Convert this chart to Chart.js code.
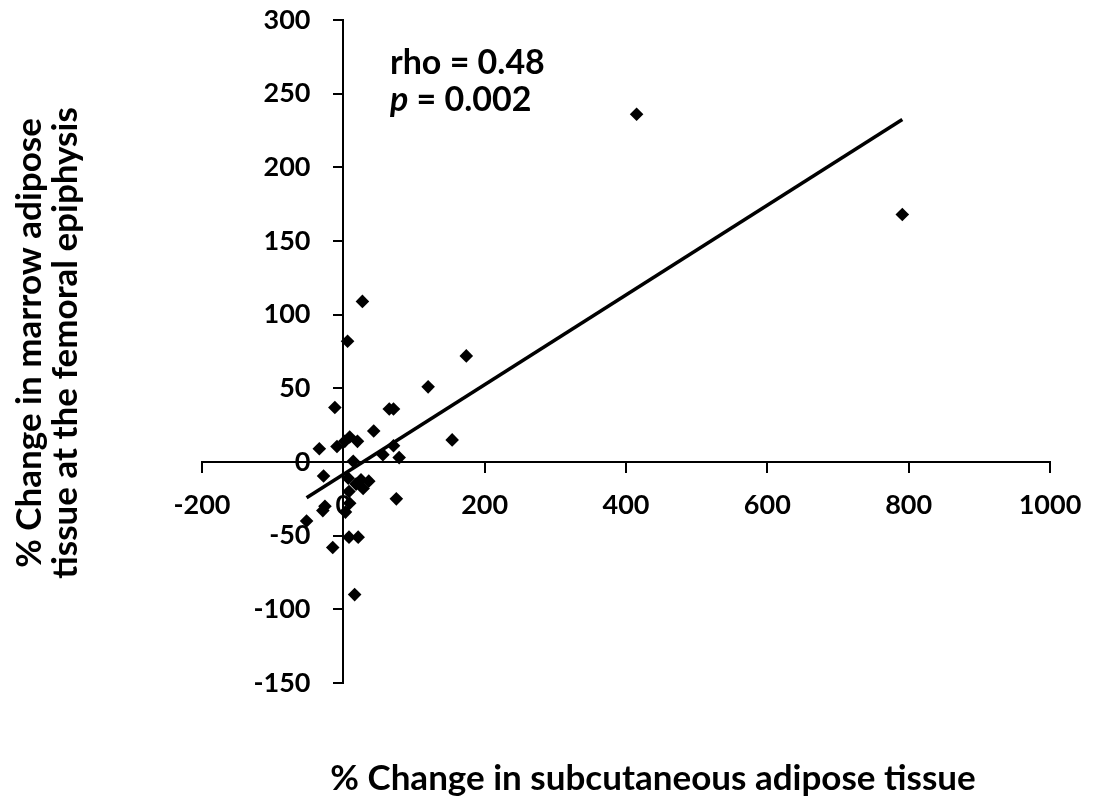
<!DOCTYPE html>
<html>
<head>
<meta charset="utf-8">
<script src="https://cdn.jsdelivr.net/npm/chart.js@4"></script>
<style>
  html, body { margin: 0; padding: 0; background: #ffffff; }
  #wrap { width: 1093px; height: 798px; }
</style>
</head>
<body>
<div id="wrap"><canvas id="c" width="1093" height="798"></canvas></div>
<script>
// ---- data ----
const subcutChange = [415, 791, 27, 6, 174, 120, -12, 65, 71, 43, 9, 20, -9, 2, -34, 154, 71, 56, 79, 14,
                      -28, 7, 25, 36, 28, 18, 8, 75, -26, -29, 9, 3, -52, 8, 21, -15, 16];
const marrowChange = [236, 168, 109, 82, 72, 51, 37, 36, 36, 21, 17, 14, 10.5, 14, 9, 15, 11, 5, 3, 0.5,
                      -9.5, -11, -12, -13, -18, -15, -20, -25, -30, -33, -28, -34, -40, -51, -51, -58, -90];
const trendX = [-52, 791];
const trendY = [-24.3, 232.4];
const xTicks = [-200, 0, 200, 400, 600, 800, 1000];
const yTicks = [-150, -100, -50, 0, 50, 100, 150, 200, 250, 300];
const xTitle = '% Change in subcutaneous adipose tissue';
const yTitle = ['% Change in marrow adipose', 'tissue at the femoral epiphysis'];
const rhoText = 'rho = 0.48';
const pLabel = 'p';
const pText = ' = 0.002';

const FONT = 'Lato, "Open Sans", sans-serif';

const points = subcutChange.map((x, i) => ({ x: x, y: marrowChange[i] }));
const trend = trendX.map((x, i) => ({ x: x, y: trendY[i] }));

const textPlugin = {
  id: 'texts',
  afterDraw(chart) {
    const ctx = chart.ctx;
    const xs = chart.scales.x, ys = chart.scales.y;
    ctx.save();
    ctx.fillStyle = '#000';
    // annotation
    ctx.font = 'bold 34px ' + FONT;
    ctx.textAlign = 'left';
    ctx.textBaseline = 'alphabetic';
    const ax = xs.getPixelForValue(66);
    ctx.fillText(rhoText, ax, ys.getPixelForValue(263.4));
    const py = ys.getPixelForValue(238.2);
    ctx.font = 'italic bold 34px ' + FONT;
    ctx.fillText(pLabel, ax, py);
    const pw = ctx.measureText(pLabel).width;
    ctx.font = 'bold 34px ' + FONT;
    ctx.fillText(pText, ax + pw, py);
    // x title
    ctx.font = 'bold 35px ' + FONT;
    ctx.textAlign = 'center';
    ctx.textBaseline = 'alphabetic';
    ctx.fillText(xTitle, 653, 790);
    // y title
    ctx.textBaseline = 'middle';
    ctx.translate(0, 343);
    ctx.rotate(-Math.PI / 2);
    ctx.fillText(yTitle[0], 0, 30);
    ctx.fillText(yTitle[1], 0, 66);
    ctx.restore();
  }
};

new Chart(document.getElementById('c'), {
  type: 'scatter',
  data: {
    datasets: [
      {
        data: points,
        pointStyle: 'rectRot',
        pointRadius: 6.8,
        pointHoverRadius: 6.8,
        backgroundColor: '#000',
        borderColor: '#000',
        borderWidth: 0,
        order: 2
      },
      {
        type: 'line',
        data: trend,
        borderColor: '#000',
        borderWidth: 3.5,
        pointRadius: 0,
        fill: false,
        order: 1
      }
    ]
  },
  options: {
    responsive: false,
    animation: false,
    events: [],
    layout: { padding: { left: 202, top: 20, right: 43, bottom: 115 } },
    plugins: { legend: { display: false }, tooltip: { enabled: false } },
    scales: {
      x: {
        type: 'linear',
        min: -200, max: 1000,
        position: { y: 0 },
        afterBuildTicks: s => { s.ticks = xTicks.map(v => ({ value: v })); },
        afterFit: s => { s.height = 0; s.paddingLeft = 0; s.paddingRight = 0; },
        grid: { drawOnChartArea: false, drawTicks: true, tickLength: 10, color: '#000', lineWidth: 2 },
        border: { color: '#000', width: 2 },
        ticks: { autoSkip: false, maxRotation: 0, padding: 17, color: '#000',
                 callback: v => String(v),
                 font: { family: FONT, size: 27, weight: 'bold' } }
      },
      y: {
        type: 'linear',
        min: -150, max: 300,
        position: { x: 0 },
        afterBuildTicks: s => { s.ticks = yTicks.map(v => ({ value: v })); },
        afterFit: s => { s.width = 0; s.paddingTop = 0; s.paddingBottom = 0; },
        grid: { drawOnChartArea: false, drawTicks: true, tickLength: 9, color: '#000', lineWidth: 2 },
        border: { color: '#000', width: 2 },
        ticks: { autoSkip: false, padding: 0, color: '#000',
                 callback: v => String(v) + '\u00a0\u00a0\u00a0\u00a0\u00a0',
                 font: { family: FONT, size: 27, weight: 'bold' } }
      }
    }
  },
  plugins: [textPlugin, {
    id: 'bg',
    beforeDraw(chart) {
      const c = chart.ctx; c.save(); c.fillStyle = '#fff';
      c.fillRect(0, 0, chart.width, chart.height); c.restore();
    }
  }]
});
</script>
</body>
</html>
